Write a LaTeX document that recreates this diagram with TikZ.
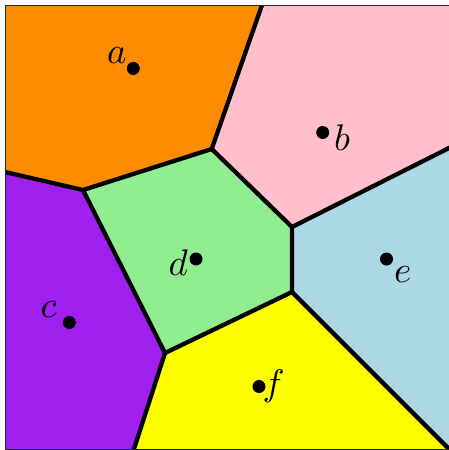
\documentclass[tikz,border=0pt]{standalone}
\usepackage{graphicx}
\usepackage{xcolor}
\definecolor{cA}{HTML}{FF8C00}
\definecolor{cB}{HTML}{FFC0CB}
\definecolor{cC}{HTML}{A020F0}
\definecolor{cD}{HTML}{90EE90}
\definecolor{cE}{HTML}{ADD8E6}
\definecolor{cF}{HTML}{FFFF00}
\newcommand{\biglab}[1]{\scalebox{3.7}{$#1$}}
\tikzset{
  edge/.style={line width=4.3pt, line join=round, line cap=round},
  site/.style={circle, fill=black, inner sep=0pt, minimum size=13pt},
  lab/.style={anchor=base west, inner sep=0pt}
}
\begin{document}
\begin{tikzpicture}[x=1pt,y=-1pt]
\useasboundingbox (0,0) rectangle (449,450);
% vertices
\coordinate (TL) at (5,5);
\coordinate (TR) at (452,5);
\coordinate (BR) at (452,452);
\coordinate (BL) at (5,449);
\coordinate (A) at (262,5);
\coordinate (B) at (211.7,149);
\coordinate (C) at (83,190);
\coordinate (L) at (5,172);
\coordinate (D) at (292,227);
\coordinate (R) at (452,146.5);
\coordinate (E) at (292,292);
\coordinate (G) at (165,353);
\coordinate (H) at (133,452);
\begin{scope}
\clip (5.6,5.6) rectangle (452,449.2);
% cells
\fill[cA] (TL) -- (A) -- (B) -- (C) -- (L) -- cycle;
\fill[cB] (A) -- (TR) -- (R) -- (D) -- (B) -- cycle;
\fill[cC] (L) -- (C) -- (G) -- (H) -- (5,452) -- cycle;
\fill[cD] (B) -- (D) -- (E) -- (G) -- (C) -- cycle;
\fill[cE] (D) -- (R) -- (BR) -- (E) -- cycle;
\fill[cF] (E) -- (BR) -- (H) -- (G) -- cycle;
% edges
\draw[edge] (A) -- (B) -- (C) -- (L);
\draw[edge] (B) -- (D) -- (R);
\draw[edge] (D) -- (E) -- (BR);
\draw[edge] (E) -- (G) -- (H);
\draw[edge] (C) -- (G);
\end{scope}
% border
\draw[line width=1.3pt, black!85] (5.6,5.6) rectangle (451,449.2);
% sites
\node[site] (sa) at (133.3,68.5) {};
\node[site] (sb) at (322.7,132.5) {};
\node[site] (sc) at (69.3,322.5) {};
\node[site] (sd) at (196,259) {};
\node[site] (se) at (386.5,259) {};
\node[site] (sf) at (259,386.5) {};
\node[lab] (la) at (107,63.5) {\biglab{a}};
\node[lab] (lb) at (334,150.5) {\biglab{b}};
\node[lab] (lc) at (40.5,317) {\biglab{c}};
\node[lab] (ld) at (168.5,275.5) {\biglab{d}};
\node[lab] (le) at (394,282) {\biglab{e}};
\node[lab] (lf) at (262.5,395) {\biglab{f}};
\end{tikzpicture}
\end{document}
